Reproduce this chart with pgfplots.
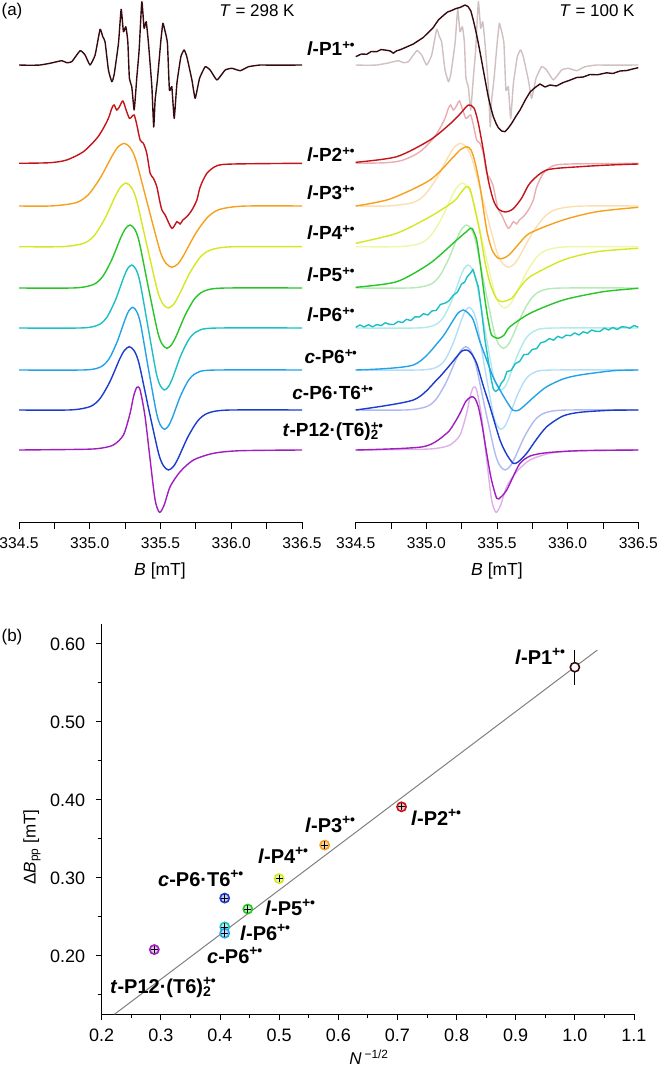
\documentclass[border=0pt]{standalone}
\usepackage{fontspec}
\setmainfont{Liberation Sans}
\usepackage{pgfplots}
\usepackage{pgfplotstable}
\pgfplotsset{compat=1.18}

\definecolor{c1}{RGB}{55,10,16}
\definecolor{c1l}{RGB}{208,192,194}
\definecolor{c2}{RGB}{195,20,28}
\definecolor{c3}{RGB}{246,160,28}
\definecolor{c4}{RGB}{212,232,34}
\definecolor{c5}{RGB}{40,196,40}
\definecolor{c6}{RGB}{28,192,196}
\definecolor{c7}{RGB}{36,162,232}
\definecolor{c8}{RGB}{28,60,206}
\definecolor{c9}{RGB}{160,30,190}

% ---------- 298 K spectra (B in mT, vertical position in px, offset per trace) ----------
\pgfplotstableread{
B Y
334.500 -65.0
334.578 -65.3
334.649 -65.0
334.719 -63.3
334.802 -60.7
334.837 -62.7
334.873 -61.7
334.932 -50.7
334.967 -55.0
335.002 -65.0
335.038 -55.0
335.073 -29.3
335.092 -36.7
335.108 -41.7
335.132 -70.0
335.156 -81.7
335.172 -75.0
335.203 -43.3
335.222 -9.3
335.238 -31.7
335.255 -26.7
335.269 -41.7
335.280 -78.3
335.297 -86.7
335.314 -110.0
335.333 -76.7
335.349 -50.0
335.368 -1.7
335.384 -28.3
335.399 -21.7
335.415 -43.3
335.439 -86.7
335.452 -127.0
335.462 -100.0
335.478 -80.0
335.503 -40.0
335.517 -23.3
335.533 -31.7
335.549 -43.3
335.563 -90.0
335.580 -86.7
335.597 -118.3
335.616 -83.3
335.644 -56.7
335.667 -50.0
335.686 -56.7
335.722 -80.0
335.745 -98.3
335.776 -78.3
335.816 -66.7
335.851 -70.0
335.899 -80.0
335.957 -70.0
336.005 -68.3
336.064 -70.7
336.122 -66.7
336.205 -65.0
336.300 -65.2
336.500 -65.0
}\Pone

\pgfplotstableread{
B Y
334.500 -163.3
334.719 -162.7
334.837 -160.0
334.955 -151.7
335.050 -138.3
335.096 -128.3
335.132 -118.3
335.156 -108.3
335.172 -105.0
335.191 -110.0
335.210 -106.7
335.234 -101.0
335.257 -110.0
335.280 -118.3
335.297 -116.7
335.314 -115.0
335.333 -125.0
335.356 -140.0
335.379 -143.3
335.403 -153.3
335.427 -173.3
335.450 -178.3
335.474 -186.7
335.493 -200.0
335.510 -210.0
335.533 -215.0
335.580 -228.3
335.616 -221.7
335.639 -224.0
335.658 -220.0
335.686 -216.7
335.722 -210.0
335.757 -200.0
335.781 -186.7
335.828 -173.3
335.899 -165.7
336.016 -164.0
336.500 -163.3
}\Ptwo

\pgfplotstableread{
B Y
334.500 -206.0
334.737 -205.9
334.905 -202.6
334.990 -194.7
335.074 -178.0
335.159 -155.7
335.200 -146.8
335.243 -143.3
335.285 -147.5
335.327 -160.4
335.412 -206.0
335.496 -250.6
335.538 -263.2
335.580 -267.3
335.623 -263.9
335.664 -255.2
335.749 -233.3
335.834 -217.1
335.918 -209.4
336.086 -206.1
336.500 -206.0
}\Pthree

\pgfplotstableread{
B Y
334.500 -246.7
334.811 -246.6
334.960 -243.2
335.034 -235.2
335.108 -218.3
335.183 -195.5
335.220 -186.6
335.257 -183.0
335.294 -187.3
335.331 -200.3
335.406 -246.7
335.480 -291.3
335.517 -303.9
335.554 -308.0
335.591 -304.6
335.628 -295.9
335.703 -274.0
335.777 -257.8
335.851 -250.1
336.000 -246.8
336.500 -246.7
}\Pfour

\pgfplotstableread{
B Y
334.500 -288.0
334.896 -287.9
335.026 -284.5
335.091 -276.6
335.155 -259.9
335.220 -237.4
335.253 -228.5
335.285 -225.0
335.318 -229.2
335.350 -242.1
335.415 -288.0
335.480 -331.9
335.512 -344.3
335.545 -348.3
335.577 -344.9
335.610 -336.4
335.675 -314.9
335.740 -298.9
335.805 -291.3
335.934 -288.1
336.500 -288.0
}\Pfive

\pgfplotstableread{
B Y
334.500 -328.0
334.951 -327.9
335.067 -324.5
335.124 -316.6
335.182 -299.9
335.240 -277.4
335.268 -268.5
335.297 -265.0
335.326 -269.2
335.355 -282.1
335.413 -328.0
335.470 -373.1
335.499 -385.8
335.528 -390.0
335.557 -386.5
335.586 -377.8
335.643 -355.7
335.701 -339.2
335.759 -331.4
335.874 -328.1
336.500 -328.0
}\Psix

\pgfplotstableread{
B Y
334.500 -370.0
334.969 -369.9
335.081 -366.6
335.137 -358.7
335.193 -342.0
335.249 -319.7
335.276 -310.8
335.304 -307.3
335.332 -311.5
335.360 -324.4
335.416 -370.0
335.472 -413.2
335.500 -425.3
335.528 -429.3
335.556 -426.0
335.584 -417.6
335.640 -396.4
335.696 -380.7
335.751 -373.3
335.863 -370.1
336.500 -370.0
}\Pseven

\pgfplotstableread{
B Y
334.500 -410.0
334.866 -409.9
335.004 -406.5
335.073 -398.5
335.142 -381.8
335.211 -359.2
335.246 -350.2
335.280 -346.7
335.315 -350.9
335.349 -363.9
335.418 -410.0
335.487 -453.7
335.522 -466.0
335.556 -470.0
335.591 -466.6
335.625 -458.2
335.694 -436.8
335.763 -420.9
335.832 -413.3
335.970 -410.1
336.500 -410.0
}\Peight

\pgfplotstableread{
B Y
334.500 -450.0
334.955 -449.3
335.073 -448.3
335.167 -445.0
335.238 -435.0
335.285 -413.3
335.309 -396.7
335.333 -387.3
335.356 -390.0
335.391 -416.7
335.427 -460.0
335.462 -500.0
335.493 -512.3
335.526 -505.0
335.568 -486.7
335.639 -471.7
335.733 -460.0
335.875 -453.3
336.064 -450.7
336.500 -450.0
}\Pnine

% ---------- 100 K spectra ----------
\pgfplotstableread{
B Y
334.500 -56.7
334.540 -54.0
334.578 -54.3
334.610 -51.5
334.649 -51.7
334.680 -49.5
334.719 -50.3
334.745 -51.0
334.766 -53.2
334.790 -50.8
334.814 -49.8
334.860 -47.0
334.908 -44.0
334.940 -41.0
334.978 -37.5
335.010 -33.0
335.049 -27.5
335.085 -20.0
335.120 -15.5
335.150 -12.0
335.179 -10.5
335.210 -8.5
335.238 -7.5
335.274 -5.0
335.295 -6.5
335.315 -11.0
335.332 -20.0
335.350 -31.0
335.368 -43.3
335.385 -56.0
335.403 -70.0
335.420 -83.0
335.438 -96.7
335.456 -107.5
335.474 -116.7
335.492 -123.0
335.509 -127.7
335.533 -131.0
335.557 -131.7
335.580 -128.0
335.604 -123.3
335.633 -116.5
335.663 -110.0
335.700 -100.0
335.734 -92.0
335.770 -87.5
335.804 -84.0
335.840 -87.0
335.875 -85.0
335.920 -86.0
335.969 -82.5
336.010 -80.5
336.064 -77.5
336.110 -77.0
336.158 -74.5
336.210 -74.8
336.276 -72.8
336.320 -73.5
336.370 -71.0
336.420 -70.5
336.460 -69.0
336.500 -67.7
}\Rone

\pgfplotstableread{
B Y
334.500 -162.3
334.790 -156.7
335.026 -140.0
335.167 -124.0
335.238 -114.0
335.297 -105.0
335.337 -108.0
335.366 -122.0
335.403 -150.0
335.438 -180.0
335.474 -200.0
335.509 -209.0
335.557 -212.0
335.613 -209.0
335.675 -198.0
335.734 -183.0
335.852 -170.0
336.087 -166.7
336.300 -165.0
336.500 -164.0
}\Rtwo

\pgfplotstableread{
B Y
334.500 -206.0
334.743 -199.0
335.026 -180.0
335.191 -157.0
335.238 -150.0
335.286 -146.7
335.316 -150.0
335.344 -162.0
335.380 -186.7
335.427 -230.0
335.465 -250.0
335.509 -258.3
335.550 -258.0
335.592 -254.0
335.660 -243.0
335.734 -233.0
335.967 -220.0
336.206 -211.7
336.500 -207.3
}\Rthree

\pgfplotstableread{
B Y
334.500 -243.3
334.790 -233.3
335.026 -216.7
335.191 -201.7
335.238 -194.0
335.281 -186.7
335.309 -189.0
335.337 -205.0
335.380 -233.0
335.415 -262.0
335.450 -283.0
335.493 -298.0
335.533 -301.7
335.604 -298.3
335.660 -288.0
335.734 -276.7
335.969 -260.0
336.206 -251.7
336.500 -248.3
}\Rfour

\pgfplotstableread{
B Y
334.500 -287.3
334.790 -281.7
335.026 -263.3
335.215 -240.0
335.281 -232.0
335.321 -228.3
335.356 -240.0
335.387 -270.0
335.415 -300.0
335.440 -322.0
335.462 -335.0
335.509 -338.3
335.550 -335.0
335.592 -326.7
335.734 -313.3
335.969 -300.0
336.252 -291.7
336.500 -288.3
}\Rfive

\pgfplotstableread{
B Y
334.50 -327.3
334.53 -324.9
334.56 -327.0
334.59 -324.7
334.62 -326.8
334.65 -324.5
334.68 -325.6
334.71 -322.8
334.74 -324.4
334.77 -324.5
334.80 -321.4
334.83 -322.6
334.86 -319.3
334.89 -320.6
334.92 -316.8
334.95 -317.0
334.98 -313.7
335.01 -315.0
335.04 -310.9
335.07 -310.4
335.10 -304.4
335.13 -303.3
335.16 -300.8
335.19 -295.3
335.22 -292.1
335.25 -283.8
335.27 -282.4
335.29 -276.6
335.31 -273.5
335.33 -269.4
335.35 -279.0
335.368 -287.0
335.39 -310.0
335.415 -340.0
335.44 -362.0
335.46 -380.0
335.474 -389.0
335.49 -391.5
335.509 -389.5
335.53 -383.2
335.55 -379.7
335.57 -371.7
335.60 -370.4
335.63 -363.6
335.66 -361.4
335.69 -354.6
335.72 -354.3
335.75 -349.3
335.78 -348.7
335.81 -342.7
335.84 -341.7
335.87 -338.5
335.90 -340.2
335.93 -336.3
335.96 -338.0
335.99 -335.1
336.02 -335.7
336.05 -332.9
336.08 -335.0
336.11 -331.8
336.14 -333.2
336.17 -330.0
336.20 -331.4
336.23 -331.3
336.26 -328.1
336.29 -330.0
336.32 -327.4
336.35 -329.6
336.38 -326.8
336.41 -327.0
336.44 -328.2
336.47 -325.5
336.50 -327.2
}\Rsix

\pgfplotstableread{
B Y
334.500 -370.0
334.908 -365.0
335.097 -340.0
335.191 -320.0
335.224 -313.0
335.262 -310.0
335.295 -313.0
335.332 -320.0
335.380 -342.0
335.427 -360.0
335.472 -377.0
335.521 -390.0
335.571 -402.0
335.611 -410.0
335.649 -410.5
335.686 -406.7
335.769 -396.0
335.852 -386.7
335.967 -379.0
336.087 -375.0
336.323 -370.7
336.500 -370.0
}\Rseven

\pgfplotstableread{
B Y
334.500 -410.0
334.908 -400.0
335.073 -380.0
335.167 -365.0
335.215 -356.7
335.252 -351.0
335.286 -350.0
335.316 -353.0
335.356 -363.3
335.401 -385.0
335.450 -406.7
335.521 -440.0
335.571 -455.0
335.615 -463.3
335.649 -462.0
335.710 -453.3
335.776 -440.0
335.852 -426.7
335.967 -416.0
336.087 -412.3
336.300 -410.3
336.500 -410.0
}\Reight

\pgfplotstableread{
B Y
334.500 -450.0
334.978 -446.7
335.144 -433.3
335.203 -422.0
335.238 -413.3
335.281 -401.0
335.321 -396.7
335.344 -398.5
335.368 -406.7
335.394 -425.0
335.427 -453.3
335.458 -478.0
335.498 -498.3
335.528 -497.0
335.569 -490.0
335.613 -477.0
335.663 -463.3
335.734 -456.0
335.852 -452.7
336.087 -450.7
336.500 -450.0
}\Rnine

\pgfplotsset{
  specaxis/.style={
    anchor=south west, scale only axis,
    height=522pt,
    xmin=334.5, xmax=336.5, ymin=-522, ymax=0,
    axis x line*=bottom, axis y line=none,
    axis line style={-, line width=0.8pt},
    xtick={334.5,335,335.5,336,336.5},
    minor xtick={334.75,335.25,335.75,336.25},
    tick align=outside, major tick length=7pt, minor tick length=7pt,
    tick style={black, line width=0.8pt},
    xticklabel style={yshift=-5pt, font=\fontsize{15.6}{18}\selectfont,
      /pgf/number format/.cd, fixed, fixed zerofill, precision=1, assume math mode=true},
  },
  dk/.style={line width=1.4pt, no markers, smooth, tension=0.45},
  lt/.style={line width=1.4pt, no markers, smooth, tension=0.45},
}

\newcommand{\radsup}{\textsuperscript{+\kern-0.3pt•}}
\newcommand{\labA}{\fontsize{19}{22}\selectfont\bfseries}
\newcommand{\labB}{\fontsize{20}{23}\selectfont\bfseries}

\begin{document}
\begin{tikzpicture}[x=1pt,y=1pt]
\useasboundingbox (0,0) rectangle (661,-1070);

% ================= (a) left: 298 K =================
\begin{axis}[specaxis, at={(19pt,-522pt)}, width=283pt]
\addplot[c1, line width=1.4pt, no markers, smooth, tension=0.25, line join=round] table {\Pone};
\addplot[c2, dk] table {\Ptwo};
\addplot[c3, dk] table {\Pthree};
\addplot[c4, dk] table {\Pfour};
\addplot[c5, dk] table {\Pfive};
\addplot[c6, dk] table {\Psix};
\addplot[c7, dk] table {\Pseven};
\addplot[c8, dk] table {\Peight};
\addplot[c9, dk] table {\Pnine};
\end{axis}

% ================= (a) right: 100 K =================
\begin{axis}[specaxis, at={(355.7pt,-522pt)}, width=282.6pt]
\addplot[c1l, line width=1.4pt, no markers, smooth, tension=0.25, line join=round] table {\Pone};
\addplot[c1, line width=1.4pt, no markers, line join=round] table {\Rone};
\addplot[c2!35!white, lt] table {\Ptwo};
\addplot[c2, dk] table {\Rtwo};
\addplot[c3!35!white, lt] table {\Pthree};
\addplot[c3, dk] table {\Rthree};
\addplot[c4!40!white, lt] table {\Pfour};
\addplot[c4, dk] table {\Rfour};
\addplot[c5!35!white, lt] table {\Pfive};
\addplot[c5, dk] table {\Rfive};
\addplot[c6!35!white, lt] table {\Psix};
\addplot[c6, line width=1.4pt, no markers, line join=round] table {\Rsix};
\addplot[c7!35!white, lt] table {\Pseven};
\addplot[c7, dk] table {\Rseven};
\addplot[c8!35!white, lt] table {\Peight};
\addplot[c8, dk] table {\Reight};
\addplot[c9!35!white, lt] table {\Pnine};
\addplot[c9, dk] table {\Rnine};
\end{axis}

% labels of panel (a)
\node[font=\fontsize{17}{20}\selectfont] at (12,-11) {(a)};
\node[font=\fontsize{17}{20}\selectfont] at (257,-11) {\textit{T} = 298 K};
\node[font=\fontsize{17}{20}\selectfont] at (597,-11) {\textit{T} = 100 K};
\node[font=\fontsize{17.5}{20}\selectfont] at (160,-571) {\textit{B} [mT]};
\node[font=\fontsize{17.5}{20}\selectfont] at (497,-571) {\textit{B} [mT]};
\node[anchor=base, font=\labA, inner sep=0pt] at (331,-55.5) {\textit{l}-P1\radsup};
\node[anchor=base, font=\labA, inner sep=0pt] at (331,-161.5) {\textit{l}-P2\radsup};
\node[anchor=base, font=\labA, inner sep=0pt] at (331,-199.5) {\textit{l}-P3\radsup};
\node[anchor=base, font=\labA, inner sep=0pt] at (331,-239.5) {\textit{l}-P4\radsup};
\node[anchor=base, font=\labA, inner sep=0pt] at (331,-281.5) {\textit{l}-P5\radsup};
\node[anchor=base, font=\labA, inner sep=0pt] at (331,-321.5) {\textit{l}-P6\radsup};
\node[anchor=base, font=\labA, inner sep=0pt] at (331,-363.5) {\textit{c}-P6\radsup};
\node[anchor=base, font=\labA, inner sep=0pt] at (333,-399.5) {\textit{c}-P6·T6\radsup};
\node[anchor=base, font=\labA, inner sep=0pt] at (333,-436.5) {\textit{t}-P12·(T6)\rlap{\textsubscript{2}}\radsup};

% ================= (b) =================
\begin{axis}[
  at={(101.7pt,-1014.3pt)}, anchor=south west, scale only axis,
  width=532.3pt, height=390pt,
  xmin=0.2, xmax=1.1, ymin=0.125, ymax=0.625,
  axis x line*=bottom, axis y line*=left,
  axis line style={-, line width=0.8pt},
  xtick={0.2,0.3,0.4,0.5,0.6,0.7,0.8,0.9,1.0,1.1},
  minor xtick={0.25,0.35,0.45,0.55,0.65,0.75,0.85,0.95,1.05},
  ytick={0.2,0.3,0.4,0.5,0.6},
  minor ytick={0.15,0.25,0.35,0.45,0.55},
  tick align=outside, major tick length=6pt, minor tick length=4pt,
  tick style={black, line width=0.8pt},
  xticklabel style={yshift=-5pt, font=\fontsize{18}{20}\selectfont,
    /pgf/number format/.cd, fixed, fixed zerofill, precision=1, assume math mode=true},
  yticklabel style={xshift=-7pt, font=\fontsize{18}{20}\selectfont,
    /pgf/number format/.cd, fixed, fixed zerofill, precision=2, assume math mode=true},
  clip=false,
]
\addplot[gray, line width=1pt, no markers] coordinates {(0.2215,0.125) (1.038,0.592)};
\addplot[only marks, mark=*, mark size=4.6pt, mark options={draw=c1, fill=white, line width=1.6pt},
  error bars/.cd, y dir=both, y explicit,
  error bar style={black, line width=0.9pt},
  error mark options={black, mark size=5pt, line width=0.9pt}]
  coordinates {(1.0,0.570) +- (0,0.016)};
\addplot[only marks, mark=*, mark size=4.6pt, mark options={draw=c2, fill=c2!25!white, line width=1.6pt}] coordinates {(0.707,0.391)};
\addplot[only marks, mark=*, mark size=4.6pt, mark options={draw=c3, fill=c3!40!white, line width=1.6pt}] coordinates {(0.577,0.342)};
\addplot[only marks, mark=*, mark size=4.6pt, mark options={draw=c4, fill=c4!40!white, line width=1.6pt}] coordinates {(0.5,0.299)};
\addplot[only marks, mark=*, mark size=4.6pt, mark options={draw=c5, fill=c5!30!white, line width=1.6pt}] coordinates {(0.447,0.260)};
\addplot[only marks, mark=*, mark size=4.6pt, mark options={draw=c6, fill=c6!30!white, line width=1.6pt}] coordinates {(0.408,0.237)};
\addplot[only marks, mark=*, mark size=4.6pt, mark options={draw=c7, fill=c7!30!white, line width=1.6pt}] coordinates {(0.408,0.229)};
\addplot[only marks, mark=*, mark size=4.6pt, mark options={draw=c8, fill=c8!25!white, line width=1.6pt}] coordinates {(0.408,0.274)};
\addplot[only marks, mark=*, mark size=4.6pt, mark options={draw=c9, fill=c9!25!white, line width=1.6pt}] coordinates {(0.289,0.208)};
\addplot[only marks, mark=+, mark size=3.6pt, mark options={black, line width=0.9pt}]
  coordinates {(0.707,0.391) (0.577,0.342) (0.5,0.299) (0.447,0.260) (0.408,0.237) (0.408,0.229) (0.408,0.274) (0.289,0.208)};
\end{axis}

\node[font=\fontsize{17}{20}\selectfont] at (12,-637) {(b)};
\node[rotate=90, font=\fontsize{17}{20}\selectfont] at (32,-847) {Δ\textit{B}\textsubscript{pp} [mT]};
\node[font=\fontsize{17}{20}\selectfont] at (369,-1057) {\textit{N}\,\textsuperscript{−1/2}};
\node[anchor=base west, font=\labB, inner sep=0pt] at (515,-664) {\textit{l}-P1\radsup};
\node[anchor=base west, font=\labB, inner sep=0pt] at (411,-825) {\textit{l}-P2\radsup};
\node[anchor=base west, font=\labB, inner sep=0pt] at (305,-832) {\textit{l}-P3\radsup};
\node[anchor=base west, font=\labB, inner sep=0pt] at (258,-863) {\textit{l}-P4\radsup};
\node[anchor=base west, font=\labB, inner sep=0pt] at (158,-886.5) {\textit{c}-P6·T6\radsup};
\node[anchor=base west, font=\labB, inner sep=0pt] at (265,-915) {\textit{l}-P5\radsup};
\node[anchor=base west, font=\labB, inner sep=0pt] at (240,-940) {\textit{l}-P6\radsup};
\node[anchor=base west, font=\labB, inner sep=0pt] at (207,-963) {\textit{c}-P6\radsup};
\node[anchor=base west, font=\labB, inner sep=0pt] at (110,-993) {\textit{t}-P12·(T6)\rlap{\textsubscript{2}}\radsup};
\end{tikzpicture}
\end{document}
